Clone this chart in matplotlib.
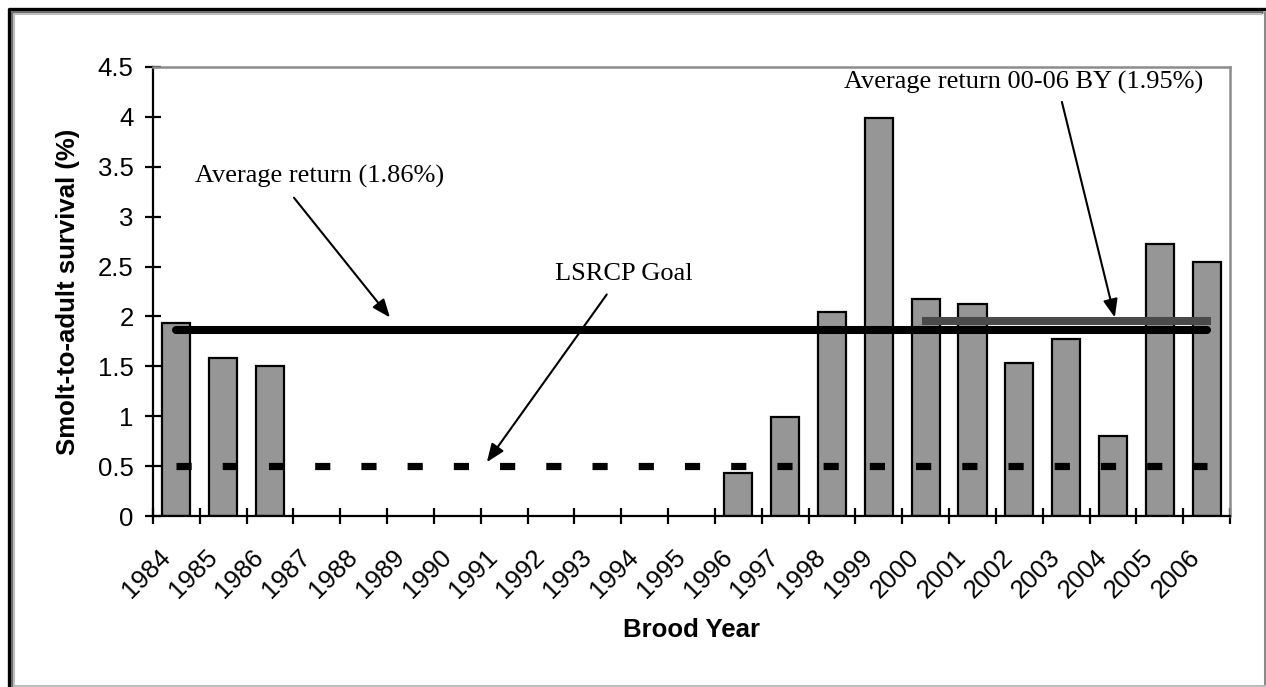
import numpy as np
import matplotlib.pyplot as plt
import matplotlib.transforms as mtransforms
from matplotlib.ticker import FixedLocator, FuncFormatter

# smolt-to-adult survival by brood year (no estimate for 1987-1995)
years = [str(y) for y in range(1984, 2007)]
survival = [1.93, 1.58, 1.50,
            np.nan, np.nan, np.nan, np.nan, np.nan, np.nan, np.nan, np.nan, np.nan,
            0.43, 0.99, 2.04, 3.99, 2.17, 2.12, 1.53, 1.77, 0.80, 2.73, 2.55]
avg_all = 1.86
avg_recent = 1.95
recent_from = '2000'
goal = 0.5

W, H = 1266, 687
fig = plt.figure(figsize=(W / 100, H / 100), dpi=100)
ax = fig.add_axes([153 / W, 1 - 516 / H, (1230 - 153) / W, (516 - 67) / H])

sans = 'Liberation Sans'
serif = 'Liberation Serif'

x = np.arange(len(years))
vals = np.array(survival)
mask = ~np.isnan(vals)
ax.bar(x[mask], vals[mask], width=0.6, color='#969696', edgecolor='black', linewidth=1.6, zorder=2)

# goal line and average lines
ax.plot([x[0], x[-1]], [goal, goal], color='black', lw=5.2,
        linestyle=(0, (2.1, 4.3)), dash_capstyle='butt', zorder=3)
i0 = years.index(recent_from)
ax.plot([x[i0], x[-1]], [avg_recent, avg_recent], color='#4a4a4a', lw=5.8,
        solid_capstyle='projecting', zorder=4)
ax.plot([x[0], x[-1]], [avg_all, avg_all], color='black', lw=5.8,
        solid_capstyle='round', zorder=5)

ax.set_xlim(-0.5, len(years) - 0.5)
ax.set_ylim(0, 4.5)

# ticks at category boundaries, labels at category centres
ax.xaxis.set_major_locator(FixedLocator(np.arange(len(years) + 1) - 0.5))
ax.xaxis.set_major_formatter(FuncFormatter(lambda v, p: ''))
ax.xaxis.set_minor_locator(FixedLocator(x))
ax.set_xticks(x, years, minor=True)
ax.tick_params(axis='x', which='minor', length=0, pad=27, labelsize=18.5)
ax.tick_params(axis='x', which='major', direction='inout', length=12, width=1.6)
shift = mtransforms.ScaledTranslation(-0.10, 0, fig.dpi_scale_trans)
for lab in ax.get_xticklabels(minor=True):
    lab.set_rotation(45)
    lab.set_ha('right')
    lab.set_va('center')
    lab.set_rotation_mode('anchor')
    lab.set_fontfamily(sans)
    lab.set_transform(lab.get_transform() + shift)

ax.set_yticks(np.arange(0, 4.51, 0.5))
ax.yaxis.set_major_formatter(FuncFormatter(lambda v, p: '%g' % v))
ax.tick_params(axis='y', direction='inout', length=12, width=1.6, pad=8, labelsize=18.5)
for lab in ax.get_yticklabels():
    lab.set_fontfamily(sans)

for s in ['left', 'bottom']:
    ax.spines[s].set_color('black')
    ax.spines[s].set_linewidth(1.6)
for s in ['top', 'right']:
    ax.spines[s].set_color('#8c8c8c')
    ax.spines[s].set_linewidth(1.8)

ax.set_ylabel('Smolt-to-adult survival (%)', fontfamily=sans, fontweight='bold',
              fontsize=18.5, va='center')
ax.yaxis.set_label_coords(-0.079, 0.5)
ax.set_xlabel('Brood Year', fontfamily=sans, fontweight='bold', fontsize=18.5, va='center')
ax.xaxis.set_label_coords(0.5, -0.254)

# annotations
arrow = dict(arrowstyle='-|>,head_length=0.55,head_width=0.22', color='black',
             lw=1.5, mutation_scale=20, shrinkA=0, shrinkB=0)
ax.text(0.40, 3.40, 'Average return (1.86%)', fontfamily=serif, fontsize=19,
        ha='left', va='center', zorder=6)
ax.annotate('', xy=(4.56, 1.99), xytext=(2.51, 3.19), arrowprops=arrow, zorder=6)

ax.text(9.56, 2.43, 'LSRCP Goal', fontfamily=serif, fontsize=19,
        ha='center', va='center', zorder=6)
ax.annotate('', xy=(6.63, 0.54), xytext=(9.19, 2.22), arrowprops=arrow, zorder=6)

ax.text(18.10, 4.35, 'Average return 00-06 BY (1.95%)', fontfamily=serif, fontsize=19,
        ha='center', va='center', zorder=6)
ax.annotate('', xy=(20.04, 1.99), xytext=(18.91, 4.15), arrowprops=arrow, zorder=6)

# picture frame around the chart
def px(xp, yp):
    return xp / W, 1 - yp / H

def frame_line(pts, color, lw):
    xs, ys = zip(*[px(a, b) for a, b in pts])
    fig.add_artist(plt.Line2D(xs, ys, color=color, lw=lw, transform=fig.transFigure,
                              solid_capstyle='butt'))

frame_line([(8.5, H), (8.5, 8.5), (W, 8.5)], 'black', 2.4)
frame_line([(11.5, H), (11.5, 11.5), (1263, 11.5)], '#6a6a6a', 2.2)
frame_line([(14, H), (14, 14), (1262, 14)], '#bdbdbd', 1.5)
frame_line([(1264.5, 11), (1264.5, H)], '#8a8a8a', 2.2)
frame_line([(14, 685.8), (W, 685.8)], '#bdbdbd', 1.5)

fig.savefig('out.png', dpi=100)
